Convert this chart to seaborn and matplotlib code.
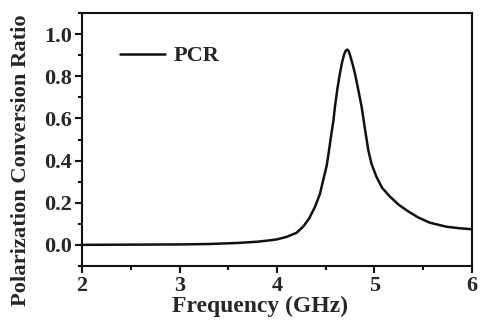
import matplotlib
matplotlib.use("Agg")
import matplotlib.pyplot as plt
from matplotlib.ticker import MultipleLocator
import seaborn as sns
import pandas as pd

# Polarization conversion ratio versus frequency
freq_ghz = [2.0, 2.5, 3.0, 3.3, 3.6, 3.8, 3.9, 4.0, 4.1, 4.2, 4.27, 4.33,
            4.39, 4.44, 4.475, 4.51, 4.53, 4.554, 4.58, 4.595, 4.62, 4.646,
            4.67, 4.69, 4.705, 4.72, 4.735, 4.75, 4.775, 4.80, 4.835, 4.869,
            4.90, 4.937, 4.97, 5.02, 5.08, 5.16, 5.25, 5.35, 5.45, 5.57, 5.74,
            5.87, 6.0]
pcr = [0.0, 0.001, 0.002, 0.004, 0.009, 0.015, 0.020, 0.026, 0.038, 0.057,
       0.087, 0.125, 0.18, 0.24, 0.308, 0.375, 0.435, 0.513, 0.592, 0.655,
       0.74, 0.814, 0.87, 0.905, 0.921, 0.927, 0.921, 0.90, 0.86, 0.814,
       0.735, 0.655, 0.56, 0.45, 0.385, 0.324, 0.27, 0.229, 0.19, 0.158,
       0.13, 0.105, 0.086, 0.079, 0.074]

df = pd.DataFrame({"Frequency (GHz)": freq_ghz, "PCR": pcr})

sns.set_style("ticks")
plt.rcParams["font.family"] = ["Liberation Serif", "DejaVu Serif"]
plt.rcParams["font.weight"] = "bold"

fig = plt.figure(figsize=(4.8, 3.2), dpi=100)
ax = fig.add_axes([0.171, 0.169, 0.812, 0.790])

sns.lineplot(data=df, x="Frequency (GHz)", y="PCR", ax=ax, color="#111111",
             linewidth=1.8, label="PCR")

ax.set_xlim(2, 6)
ax.set_ylim(-0.1, 1.1)
ax.xaxis.set_major_locator(MultipleLocator(1))
ax.xaxis.set_minor_locator(MultipleLocator(0.5))
ax.yaxis.set_minor_locator(MultipleLocator(0.1))
ax.set_yticks([0.0, 0.2, 0.4, 0.6, 0.8, 1.0])
ax.set_yticklabels(["0.0", "0.2", "0.4", "0.6", "0.8", "1.0"])

ax.tick_params(which="major", direction="out", length=5, width=1.5,
               labelsize=16, pad=2, color="#111111")
ax.tick_params(which="minor", direction="out", length=3, width=1.5,
               color="#111111")
for lab in ax.get_xticklabels() + ax.get_yticklabels():
    lab.set_fontweight("bold")

for side in ["left", "right", "top", "bottom"]:
    ax.spines[side].set_visible(True)
    ax.spines[side].set_linewidth(1.5)
    ax.spines[side].set_color("#111111")

ax.set_xlabel("Frequency (GHz)", fontsize=17, fontweight="bold")
ax.xaxis.set_label_coords(0.456, -0.118)
ax.set_ylabel("Polarization Conversion Ratio", fontsize=16.2,
              fontweight="bold")
ax.yaxis.set_label_coords(-0.13, 0.42)

leg = ax.legend(loc="upper left", bbox_to_anchor=(0.047, 0.95), frameon=False,
                handlelength=2.0, handletextpad=0.4,
                prop={"size": 16, "weight": "bold"})

fig.savefig("out.png", dpi=100, facecolor="white")
